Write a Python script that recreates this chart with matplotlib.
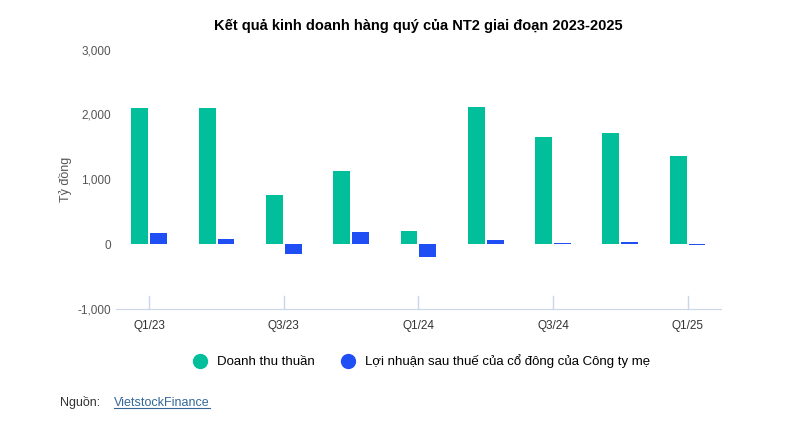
import matplotlib
matplotlib.use("Agg")
import matplotlib.pyplot as plt
from matplotlib.lines import Line2D
import numpy as np

plt.rcParams['font.family'] = ['Liberation Sans', 'DejaVu Sans']

quarters = ["Q1/23","Q2/23","Q3/23","Q4/23","Q1/24","Q2/24","Q3/24","Q4/24","Q1/25"]
revenue = [2100, 2100, 760, 1130, 200, 2120, 1650, 1720, 1360]
profit = [170, 80, -150, 185, -200, 65, 20, 35, -15]
tick_labels = ["Q1/23","","Q3/23","","Q1/24","","Q3/24","","Q1/25"]
colors = ["#00bf9a", "#1f4ef5"]
names = ["Doanh thu thuần", "Lợi nhuận sau thuế của cổ đông của Công ty mẹ"]

fig = plt.figure(figsize=(7.97,4.32), dpi=100)
ax = fig.add_axes([0.145, 0.285, 0.76, 0.60])
x = np.arange(len(quarters))
w = 0.25
ax.bar(x-0.14, revenue, w, color=colors[0])
ax.bar(x+0.14, profit, w, color=colors[1])
ax.set_ylim(-1000, 3000)
ax.set_xlim(-0.5, len(quarters)-0.5)
ax.set_yticks([-1000,0,1000,2000,3000])
ax.set_yticklabels(["-1,000","0","1,000","2,000","3,000"])
ax.set_xticks(x[::2])
ax.set_xticklabels(tick_labels[::2])
ax.tick_params(axis='y', length=0, labelsize=8.5, colors="#555555")
ax.tick_params(axis='x', length=0, labelsize=8.5, colors="#333333", pad=8)
for i in range(0, len(quarters), 2):
    ax.plot([i, i], [-1000, -800], color="#ccd6eb", lw=1, clip_on=False)
for s in ["top","right","left"]:
    ax.spines[s].set_visible(False)
ax.spines["bottom"].set_color("#ccd6eb")
ax.set_ylabel("Tỷ đồng", fontsize=9, color="#555555")
ax.set_title("Kết quả kinh doanh hàng quý của NT2 giai đoạn 2023-2025", fontsize=10.5, fontweight="bold", pad=14)
handles = [Line2D([], [], marker='o', ls='', color=c, markersize=10) for c in colors]
ax.legend(handles, names, loc="upper center", bbox_to_anchor=(0.5, -0.13), ncol=2, frameon=False,
          fontsize=9.5, handletextpad=0.3, columnspacing=1.5)
fig.text(0.075, 0.06, "Nguồn: ", fontsize=9, color="#333333")
fig.text(0.143, 0.06, "VietstockFinance", fontsize=9, color="#336699")
fig.add_artist(Line2D([0.143, 0.263], [0.055, 0.055], color="#336699", lw=0.8))
fig.savefig("out.png", dpi=100, facecolor="white")
